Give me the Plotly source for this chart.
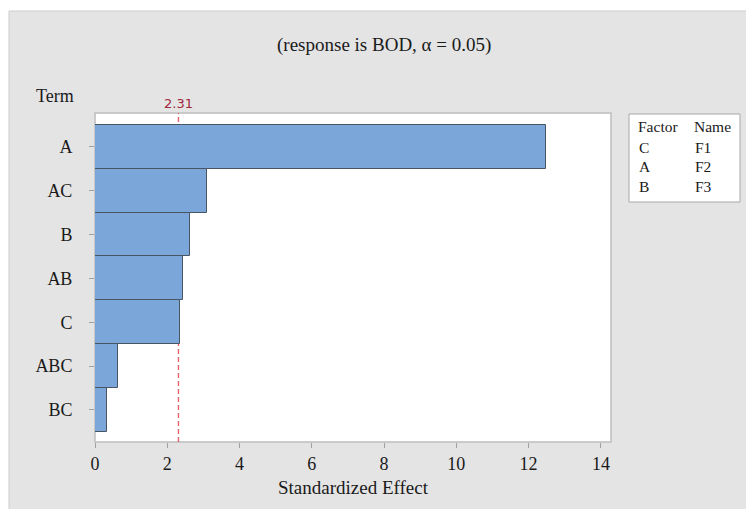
import plotly.graph_objects as go

# Pareto chart of standardized effects
terms = ["A", "AC", "B", "AB", "C", "ABC", "BC"]
effects = [12.47, 3.10, 2.62, 2.43, 2.35, 0.65, 0.32]
critical = 2.31
x_ticks = [0, 2, 4, 6, 8, 10, 12, 14]
factors = ["C", "A", "B"]
factor_names = ["F1", "F2", "F3"]

W, H = 746, 509
L, R, T, B = 95, 135, 113, 67
SERIF = "Liberation Serif, Times New Roman, serif"
SANS = "DejaVu Sans, Noto Sans, sans-serif"
INK = "#1A1A1A"


def px_x(p):
    return (p - L) / (W - L - R)


def px_y(p):
    return (H - B - p) / (H - T - B)


fig = go.Figure()
fig.add_trace(go.Bar(
    x=effects, y=terms, orientation="h", width=1.0,
    marker=dict(color="#7BA6D9", line=dict(color="#4A5564", width=1)),
    hoverinfo="x+y",
))

shapes = [
    # grey panel behind the chart
    dict(type="rect", xref="paper", yref="paper",
         x0=px_x(9), x1=px_x(W + 2), y0=px_y(H + 2), y1=px_y(11),
         fillcolor="#E4E4E4", line=dict(color="#CDCDCD", width=1), layer="below"),
    # plot area
    dict(type="rect", xref="paper", yref="paper", x0=0, x1=1, y0=0, y1=1,
         fillcolor="white", line=dict(color="#BDBDBD", width=1.5), layer="below"),
    # reference line for the critical value, behind the bars
    dict(type="line", xref="x", yref="paper", x0=critical, x1=critical, y0=0, y1=1,
         line=dict(color="#E8606A", width=1.4, dash="5px,3px"), layer="below"),
    # factor table box
    dict(type="rect", xref="paper", yref="paper",
         x0=px_x(629), x1=px_x(740), y0=px_y(202), y1=px_y(114),
         fillcolor="white", line=dict(color="#A8A8A8", width=1)),
]

annotations = [
    dict(text="(response is BOD, α = 0.05)", xref="paper", yref="paper",
         x=px_x(384), y=px_y(45), showarrow=False, xanchor="center", yanchor="middle",
         font=dict(family=SERIF, size=19, color=INK)),
    dict(text="Term", xref="paper", yref="paper", x=px_x(34), y=px_y(96),
         showarrow=False, xanchor="left", yanchor="middle",
         font=dict(family=SERIF, size=18, color=INK)),
    dict(text=f"{critical:.2f}", xref="x", yref="paper", x=critical, y=px_y(103),
         showarrow=False, xanchor="center", yanchor="middle",
         font=dict(family=SANS, size=13, color="#A3273A")),
    dict(text="Factor", xref="paper", yref="paper", x=px_x(636), y=px_y(127),
         showarrow=False, xanchor="left", yanchor="middle",
         font=dict(family=SERIF, size=15.5, color=INK)),
    dict(text="Name", xref="paper", yref="paper", x=px_x(692), y=px_y(127),
         showarrow=False, xanchor="left", yanchor="middle",
         font=dict(family=SERIF, size=15.5, color=INK)),
]
for i, (f, n) in enumerate(zip(factors, factor_names)):
    yy = px_y(147 + i * 19.5)
    annotations.append(dict(text=f, xref="paper", yref="paper", x=px_x(637), y=yy,
                            showarrow=False, xanchor="left", yanchor="middle",
                            font=dict(family=SERIF, size=15.5, color=INK)))
    annotations.append(dict(text=n, xref="paper", yref="paper", x=px_x(693), y=yy,
                            showarrow=False, xanchor="left", yanchor="middle",
                            font=dict(family=SERIF, size=15.5, color=INK)))

fig.update_layout(
    width=W, height=H,
    margin=dict(l=L, r=R, t=T, b=B, pad=0),
    paper_bgcolor="white", plot_bgcolor="rgba(0,0,0,0)",
    showlegend=False, bargap=0,
    shapes=shapes, annotations=annotations,
    xaxis=dict(
        range=[0, 14.28], tickvals=x_ticks, ticktext=[str(v) for v in x_ticks],
        showgrid=False, zeroline=False, showline=False,
        ticks="outside", ticklen=5, tickcolor="#A0A0A0",
        tickfont=dict(family=SERIF, size=18, color=INK),
        title=dict(text="Standardized Effect", standoff=8,
                   font=dict(family=SERIF, size=19, color=INK)),
    ),
    yaxis=dict(
        type="category", categoryorder="array", categoryarray=terms,
        range=[6.73, -0.77],
        showgrid=False, zeroline=False, showline=False,
        ticks="outside", ticklen=5, tickcolor="#A0A0A0",
        ticklabelstandoff=13,
        tickfont=dict(family=SERIF, size=18, color=INK),
    ),
)

fig.write_html("out.html")
